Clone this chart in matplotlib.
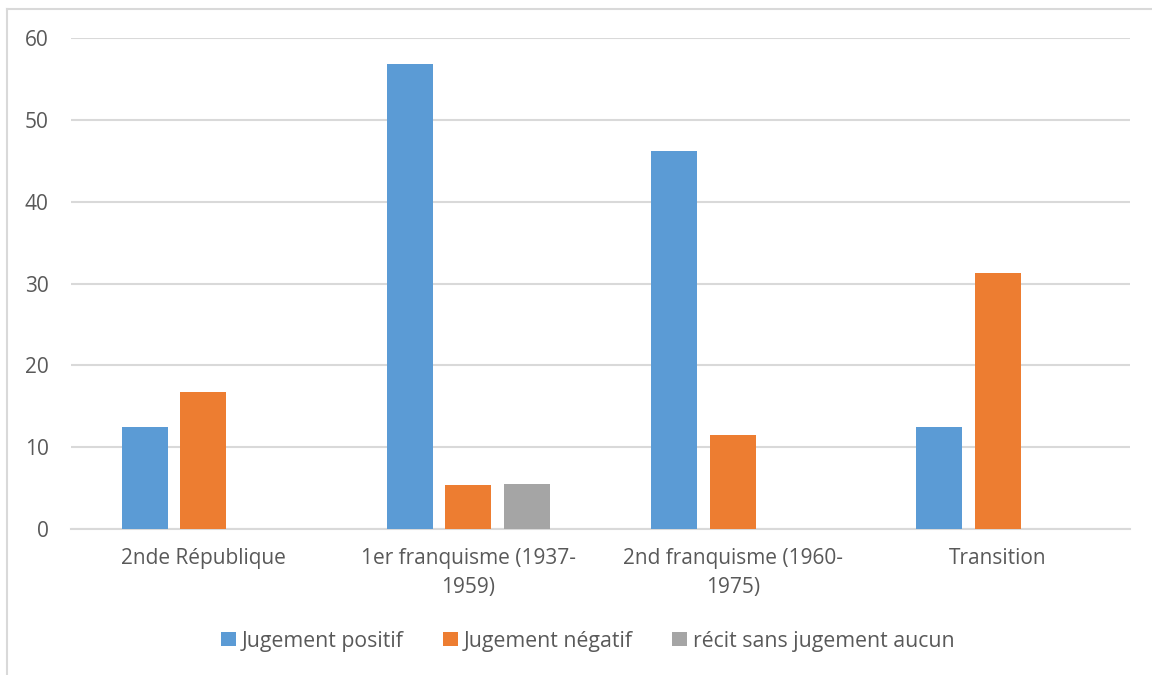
import numpy as np
import matplotlib.pyplot as plt

periodes = ['2nde République', '1er franquisme (1937-\n1959)',
            '2nd franquisme (1960-\n1975)', 'Transition']
positif = [12.5, 56.8, 46.2, 12.5]
negatif = [16.7, 5.4, 11.5, 31.3]
sans_jugement = [0, 5.5, 0, 0]

series = ['Jugement positif', 'Jugement négatif', 'récit sans jugement aucun']
couleurs = ['#5B9BD5', '#ED7D31', '#A5A5A5']

plt.rcParams['font.family'] = ['Open Sans', 'DejaVu Sans']
gris_texte = '#595959'

fig = plt.figure(figsize=(11.52, 6.75), dpi=100)
ax = fig.add_axes([71/1152, 1 - 529/675, (1130-71)/1152, (529-38)/675])

x = np.arange(len(periodes))
pas = 0.221
largeur = 0.174
for i, (vals, nom, c) in enumerate(zip([positif, negatif, sans_jugement], series, couleurs)):
    ax.bar(x + (i - 1) * pas, vals, width=largeur, color=c, label=nom, zorder=3)

ax.set_xlim(-0.5, len(periodes) - 0.5)
ax.set_ylim(0, 60)
ax.set_yticks(range(0, 61, 10))
ax.yaxis.grid(True, color='#D9D9D9', linewidth=1.5, zorder=0)
ax.set_axisbelow(True)
for s in ['top', 'right', 'left']:
    ax.spines[s].set_visible(False)
ax.spines['bottom'].set_color('#D9D9D9')
ax.spines['bottom'].set_linewidth(1.5)
ax.tick_params(axis='both', length=0, labelsize=15, colors=gris_texte)
ax.tick_params(axis='y', pad=16)
ax.tick_params(axis='x', pad=14)
ax.set_xticks(x)
ax.set_xticklabels(periodes, linespacing=1.45)

leg = fig.legend(loc='center', bbox_to_anchor=(588/1152, 1 - 641/675), ncol=3,
                 frameon=False, fontsize=15.3, handlelength=0.68, handleheight=0.68,
                 handletextpad=0.3, columnspacing=1.85)
for t in leg.get_texts():
    t.set_color(gris_texte)

# cadre du graphique (bord haut et gauche visibles)
fig.add_artist(plt.Line2D([7/1152, 7/1152], [0, 1 - 9/675], color='#D9D9D9', linewidth=1.5,
                          transform=fig.transFigure))
fig.add_artist(plt.Line2D([7/1152, 1], [1 - 9/675, 1 - 9/675], color='#D9D9D9', linewidth=1.5,
                          transform=fig.transFigure))

fig.savefig('out.png', dpi=100)
